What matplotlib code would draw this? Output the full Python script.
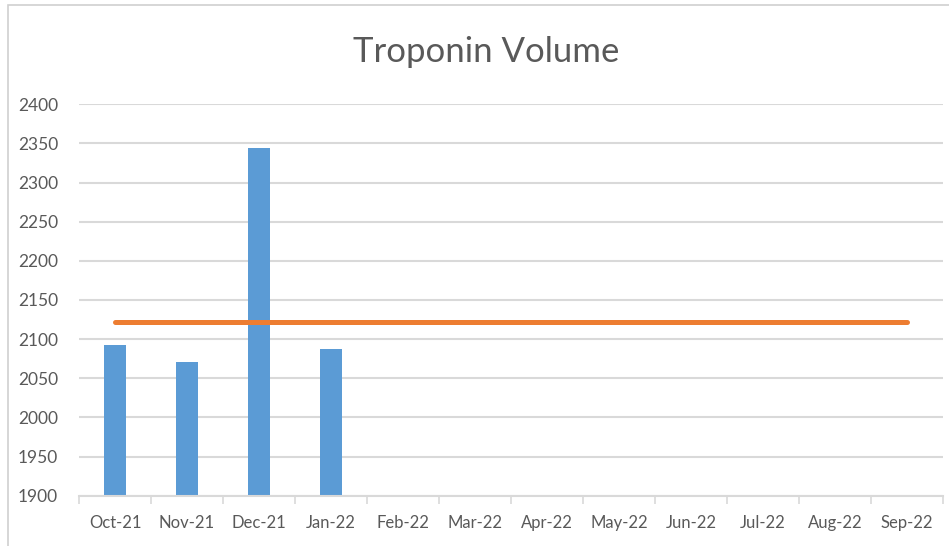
import numpy as np
import matplotlib
matplotlib.use("Agg")
import matplotlib.pyplot as plt
from matplotlib.patches import Rectangle

plt.rcParams.update({"font.family": ["Lato", "DejaVu Sans"]})

months = ["Oct-21", "Nov-21", "Dec-21", "Jan-22", "Feb-22", "Mar-22",
          "Apr-22", "May-22", "Jun-22", "Jul-22", "Aug-22", "Sep-22"]
volume = [2092, 2071, 2344, 2088]
average = [2122] * 12
y_ticks = [1900, 1950, 2000, 2050, 2100, 2150, 2200, 2250, 2300, 2350, 2400]

TXT = "#595959"
GRID = "#d9d9d9"

fig = plt.figure(figsize=(9.49, 5.46), dpi=100)
fig.patches.append(Rectangle((8 / 949, -0.1), 2, 1.1 - 5 / 546, transform=fig.transFigure,
                             fill=False, edgecolor="#d0d0d0", linewidth=1.2))
ax = fig.add_axes([79 / 949, 1 - 495.7 / 546, 864 / 949, (495.7 - 104.3) / 546])

x = np.arange(len(months))
ax.bar(x[:len(volume)], volume, width=0.31, color="#5B9BD5", zorder=2)
ax.plot(x, average, color="#ED7D31", linewidth=3.6, solid_capstyle="round", zorder=3)

ax.set_xlim(-0.5, len(months) - 0.5)
ax.set_ylim(1900, 2400)
ax.set_yticks(y_ticks)
ax.set_xticks(x)
ax.set_xticklabels(months)
ax.set_xticks(np.arange(-0.5, len(months)), minor=True)
ax.tick_params(axis="x", which="major", length=0, pad=14, labelsize=12, labelcolor=TXT)
ax.tick_params(axis="x", which="minor", length=6, width=1.2, color=GRID)
ax.tick_params(axis="y", length=0, pad=15, labelsize=12.5, labelcolor=TXT)

ax.grid(axis="y", color=GRID, linewidth=1.5, zorder=0)
ax.set_axisbelow(True)
for s in ["left", "right", "top"]:
    ax.spines[s].set_visible(False)
ax.spines["bottom"].set_color(GRID)
ax.spines["bottom"].set_linewidth(1.5)

fig.text(486 / 949, 1 - 52 / 546, "Troponin Volume", ha="center", va="center",
         fontsize=25, color=TXT)

fig.savefig("out.png", dpi=100)
